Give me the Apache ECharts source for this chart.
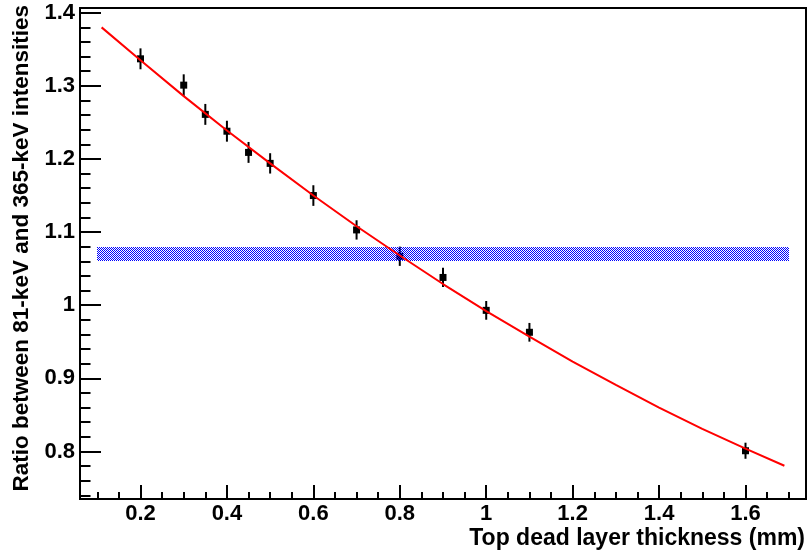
<!DOCTYPE html>
<html><head><meta charset="utf-8">
<script src="https://cdn.jsdelivr.net/npm/echarts@6/dist/echarts.min.js"></script>
<style>html,body{margin:0;padding:0;background:#fff}#c{width:810px;height:557px}</style>
</head><body><div id="c"></div>
<script>
// measured points (thickness in mm, ratio, symmetric error)
const thickness = [0.2, 0.3, 0.35, 0.4, 0.45, 0.5, 0.6, 0.7, 0.8, 0.9, 1.0, 1.1, 1.6];
const ratio     = [1.337, 1.301, 1.261, 1.238, 1.209, 1.194, 1.150, 1.103, 1.067, 1.038, 0.993, 0.963, 0.801];
const ratioErr  = [0.0143, 0.0148, 0.0143, 0.0143, 0.0143, 0.0139, 0.0141, 0.0132, 0.0132, 0.0132, 0.0128, 0.0128, 0.011];
// fitted curve
const fitX = [0.11, 0.2, 0.3, 0.4, 0.5, 0.6, 0.7, 0.8, 0.9, 1.0, 1.1, 1.2, 1.3, 1.4, 1.5, 1.6, 1.69];
const fitY = [1.380, 1.335, 1.286, 1.239, 1.194, 1.150, 1.108, 1.068, 1.029, 0.992, 0.957, 0.923, 0.891, 0.860, 0.831, 0.804, 0.7805];
// measured band
const bandX = [0.1, 1.7];
const bandY = [1.06, 1.08];
// tick labels
const xMajor = [0.2, 0.4, 0.6, 0.8, 1, 1.2, 1.4, 1.6];
const yMajor = [0.8, 0.9, 1, 1.1, 1.2, 1.3, 1.4];
const xMinor = [0.1, 0.15, 0.25, 0.3, 0.35, 0.45, 0.5, 0.55, 0.65, 0.7, 0.75, 0.85, 0.9, 0.95, 1.05, 1.1, 1.15, 1.25, 1.3, 1.35, 1.45, 1.5, 1.55, 1.65, 1.7];
const yMinor = [0.74, 0.76, 0.78, 0.82, 0.84, 0.86, 0.88, 0.92, 0.94, 0.96, 0.98, 1.02, 1.04, 1.06, 1.08, 1.12, 1.14, 1.16, 1.18, 1.22, 1.24, 1.26, 1.28, 1.32, 1.34, 1.36, 1.38];

const FONT = '"Liberation Sans", Arial, Helvetica, sans-serif';
const pat = document.createElement('canvas');
pat.width = 2; pat.height = 2;
const pc = pat.getContext('2d');
pc.fillStyle = '#0000ff';
pc.fillRect(0, 0, 1, 1);
pc.fillRect(1, 1, 1, 1);

const chart = echarts.init(document.getElementById('c'), null, {renderer: 'canvas'});
const labelStyle = {color: '#000', fontFamily: FONT, fontWeight: 'bold', fontSize: 22};
const xRange = {min: 0.06, max: 1.74};
const yRange = {min: 0.735, max: 1.4065};

chart.setOption({
  animation: false,
  backgroundColor: '#fff',
  grid: {left: 80, top: 8, right: 4, bottom: 58, show: true, borderColor: '#000', borderWidth: 2},
  xAxis: [
    Object.assign({type: 'value', position: 'bottom',
      axisLine: {show: true, onZero: false, lineStyle: {color: '#000', width: 2}},
      splitLine: {show: false},
      axisTick: {show: true, inside: true, length: 14, customValues: xMajor, lineStyle: {color: '#000', width: 2}},
      axisLabel: Object.assign({customValues: xMajor, margin: 4}, labelStyle)}, xRange),
    Object.assign({type: 'value', position: 'bottom',
      axisLine: {show: false}, splitLine: {show: false},
      axisTick: {show: true, inside: true, length: 7, customValues: xMinor, lineStyle: {color: '#000', width: 2}},
      axisLabel: {show: false}}, xRange)
  ],
  yAxis: [
    Object.assign({type: 'value', position: 'left',
      axisLine: {show: true, onZero: false, lineStyle: {color: '#000', width: 2}},
      splitLine: {show: false},
      axisTick: {show: true, inside: true, length: 21, customValues: yMajor, lineStyle: {color: '#000', width: 2}},
      axisLabel: Object.assign({customValues: yMajor, margin: 5}, labelStyle)}, yRange),
    Object.assign({type: 'value', position: 'left',
      axisLine: {show: false}, splitLine: {show: false},
      axisTick: {show: true, inside: true, length: 10.5, customValues: yMinor, lineStyle: {color: '#000', width: 2}},
      axisLabel: {show: false}}, yRange)
  ],
  graphic: [
    {type: 'text', x: 805, y: 539, style: {text: 'Top dead layer thickness (mm)', font: 'bold 23px ' + FONT, fill: '#000', align: 'right', verticalAlign: 'middle'}},
    {type: 'text', x: 22, y: 5, rotation: Math.PI / 2, style: {text: 'Ratio between 81-keV and 365-keV intensities', font: 'bold 22.5px ' + FONT, fill: '#000', align: 'right', verticalAlign: 'middle'}}
  ],
  series: [
    {
      type: 'custom', xAxisIndex: 0, yAxisIndex: 0, z: 2,
      data: thickness.map((x, i) => [x, ratio[i], ratioErr[i]]),
      encode: {x: 0, y: 1},
      renderItem: function (params, api) {
        const x = api.value(0), y = api.value(1), e = api.value(2);
        const p = api.coord([x, y]);
        const hi = api.coord([x, y + e]);
        const lo = api.coord([x, y - e]);
        return {type: 'group', children: [
          {type: 'line', shape: {x1: p[0], y1: hi[1], x2: p[0], y2: lo[1]}, style: {stroke: '#000', lineWidth: 2}},
          {type: 'rect', shape: {x: p[0] - 3.5, y: p[1] - 3.5, width: 7, height: 7}, style: {fill: '#000'}}
        ]};
      }
    },
    {
      type: 'custom', xAxisIndex: 0, yAxisIndex: 0, z: 3,
      data: [[bandX[0], bandY[0], bandX[1], bandY[1]]],
      encode: {x: [0, 2], y: [1, 3]},
      renderItem: function (params, api) {
        const a = api.coord([api.value(0), api.value(1)]);
        const b = api.coord([api.value(2), api.value(3)]);
        const x0 = Math.round(a[0]), x1 = Math.round(b[0]);
        const y0 = Math.round(b[1]), y1 = Math.round(a[1]);
        return {type: 'rect', shape: {x: x0, y: y0, width: x1 - x0, height: y1 - y0},
          style: {fill: {image: pat, repeat: 'repeat'}}};
      }
    },
    {
      type: 'line', xAxisIndex: 0, yAxisIndex: 0, z: 4,
      data: fitX.map((x, i) => [x, fitY[i]]),
      symbol: 'none', smooth: false,
      lineStyle: {color: '#ff0000', width: 2}
    }
  ]
});
</script>
</body></html>
